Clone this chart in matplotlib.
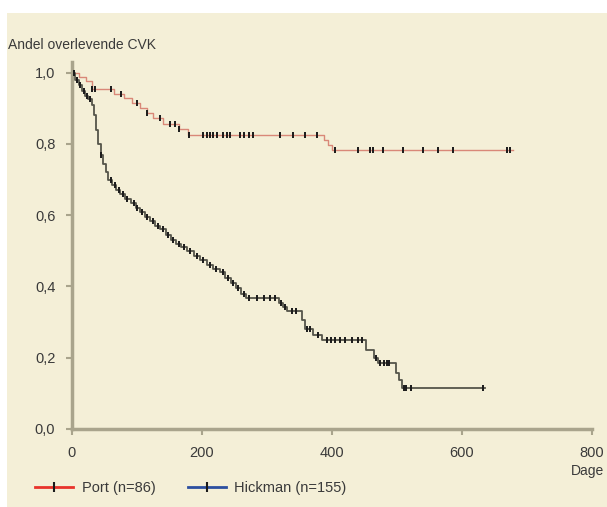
import matplotlib
matplotlib.use("Agg")
import matplotlib.pyplot as plt
import numpy as np
from matplotlib.lines import Line2D
from matplotlib.patches import Rectangle

# Kaplan-Meier style step data (days, survival)
port_t = [0, 10, 22, 30, 65, 80, 92, 104, 115, 125, 140, 165, 178, 388, 394, 400]
port_s = [1.0, 0.988, 0.976, 0.953, 0.941, 0.929, 0.915, 0.901, 0.887, 0.872,
          0.857, 0.842, 0.826, 0.810, 0.797, 0.784]
port_end = 678
port_cens = [30, 35, 60, 75, 100, 115, 135, 150, 158, 165, 180, 202, 207, 212,
             217, 223, 232, 238, 243, 258, 265, 272, 278, 320, 340, 358, 377,
             404, 440, 459, 463, 479, 509, 540, 563, 586, 669, 674]

hick_t = [0, 5, 10, 15, 20, 25, 30, 34, 37, 40, 44, 48, 52, 56, 62, 68, 74, 82,
          90, 98, 105, 112, 120, 128, 136, 144, 152, 160, 168, 177, 187, 197,
          207, 217, 228, 236, 244, 252, 260, 268, 318, 325, 331, 354, 358, 370,
          385, 452, 465, 470, 498, 503, 508]
hick_s = [1.0, 0.98, 0.965, 0.95, 0.935, 0.925, 0.91, 0.88, 0.84, 0.80, 0.77,
          0.745, 0.72, 0.70, 0.685, 0.67, 0.66, 0.645, 0.635, 0.62, 0.61, 0.595,
          0.585, 0.57, 0.56, 0.545, 0.53, 0.52, 0.51, 0.50, 0.485, 0.475, 0.46,
          0.45, 0.44, 0.425, 0.41, 0.395, 0.38, 0.368, 0.354, 0.342, 0.33,
          0.306, 0.28, 0.265, 0.25, 0.222, 0.20, 0.185, 0.157, 0.138, 0.115]
hick_end = 635
hick_cens = [3, 8, 12, 18, 23, 28, 45, 60, 66, 72, 78, 85, 95, 100, 108, 116,
             124, 132, 140, 148, 156, 164, 172, 182, 192, 202, 212, 222, 232,
             240, 248, 256, 264, 272, 285, 295, 305, 312, 322, 328, 338, 345,
             362, 366, 378, 392, 398, 405, 412, 420, 430, 440, 446, 468, 474,
             480, 484, 488, 510, 514, 522, 632]

y_ticks = [0.0, 0.2, 0.4, 0.6, 0.8, 1.0]
y_labels = ["0,0", "0,2", "0,4", "0,6", "0,8", "1,0"]
x_ticks = [0, 200, 400, 600, 800]

BG = "#f4efd7"
SPINE = "#a9a48c"
TXT = "#3a3a3a"

plt.rcParams["font.family"] = ["Liberation Sans", "DejaVu Sans"]


def step_value(t, s, x):
    idx = np.searchsorted(np.asarray(t), np.asarray(x), side="right") - 1
    return np.asarray(s)[idx]


fig = plt.figure(figsize=(6.07, 5.07), dpi=100, facecolor="white")
fig.patches.append(Rectangle((7 / 607, 0), 1, 1 - 13 / 507, transform=fig.transFigure,
                             facecolor=BG, edgecolor="none", zorder=-10))

ax = fig.add_axes([72 / 607, 78 / 507, 520 / 607, 367 / 507])
ax.set_facecolor("none")
ax.set_xlim(0, 800)
ax.set_ylim(0, 1.03)

# Port
pt = list(port_t) + [port_end]
ps = list(port_s) + [port_s[-1]]
ax.plot(pt, ps, drawstyle="steps-post", color="#d98878", lw=1.0, zorder=2)
ax.plot(port_cens, step_value(port_t, port_s, port_cens), ls="none", marker="|",
        ms=5, mew=1.4, color="#1a1a1a", zorder=3)

# Hickman
ht = list(hick_t) + [hick_end]
hs = list(hick_s) + [hick_s[-1]]
ax.plot(ht, hs, drawstyle="steps-post", color="#55554a", lw=1.3, zorder=2)
ax.plot(hick_cens, step_value(hick_t, hick_s, hick_cens), ls="none", marker="|",
        ms=5, mew=1.4, color="#1a1a1a", zorder=3)

for side in ["top", "right"]:
    ax.spines[side].set_visible(False)
for side in ["left", "bottom"]:
    ax.spines[side].set_color(SPINE)
    ax.spines[side].set_linewidth(2.5)

ax.set_yticks(y_ticks)
ax.set_yticklabels(y_labels)
ax.set_xticks(x_ticks)
ax.tick_params(axis="both", colors=SPINE, labelcolor=TXT, labelsize=10.5,
               width=1.5, length=4)
ax.tick_params(axis="y", pad=8)
ax.tick_params(axis="x", pad=8)
ax.xaxis.get_major_ticks()[-1].tick1line.set_marker(3)

fig.text(8 / 607, 1 - 45 / 507, "Andel overlevende CVK", fontsize=10, color=TXT,
         va="center", ha="left")
fig.text(604 / 607, 1 - 471 / 507, "Dage", fontsize=10, color=TXT, va="center", ha="right")

handles = [
    Line2D([0], [0], color="#e8332b", lw=2, marker="|", mec="#1a1a1a", ms=7, mew=1.5),
    Line2D([0], [0], color="#2c4fa0", lw=2, marker="|", mec="#1a1a1a", ms=7, mew=1.5),
]
fig.legend(handles, ["Port (n=86)", "Hickman (n=155)"], loc="center left",
           bbox_to_anchor=(22 / 607, 1 - 488 / 507), ncol=2, frameon=False,
           handlelength=2.6, columnspacing=2.2, handletextpad=0.6,
           fontsize=10.5, labelcolor=TXT, numpoints=1)

fig.savefig("out.png", dpi=100, facecolor="white")
